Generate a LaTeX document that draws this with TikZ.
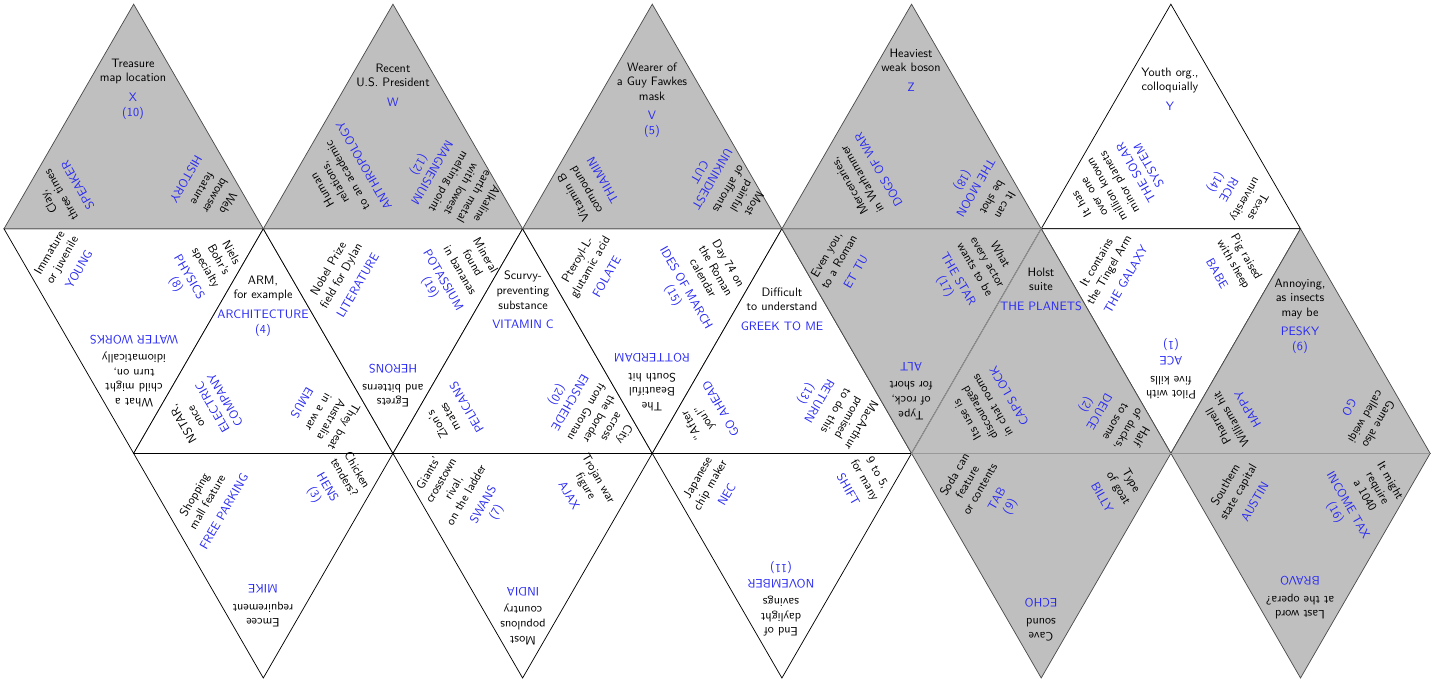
\documentclass[tikz,border=0pt]{standalone}
\usepackage{tikz}

\definecolor{ansblue}{RGB}{40,40,245}

\tikzset{
  whiteface/.style={fill=white, draw=black, line width=0.6pt},
  greyface/.style={fill=gray!50, draw=black!70, line width=0.6pt},
  seam/.style={draw=black!40, line width=0.6pt},
  cluebox/.style={align=center, text width=110pt, font=\sffamily, inner sep=0pt},
}

% clue block: name, centre, rotation, clue, answer
\newcommand{\clue}[5]{%
  \node[cluebox, rotate=#3] (#1) at (#2) {#4\\[4pt]\color{ansblue}#5};}

\begin{document}
\begin{tikzpicture}[x=0.82pt, y=-0.82pt]
  \useasboundingbox (0,0) rectangle (1439,683);

  % lattice points of the net
  \foreach \i in {0,...,11}
    \foreach \j in {0,...,3}
      \coordinate (v\i-\j) at ({4+129.65*\i},{4.2+224.6*\j});

  % white faces
  \foreach \a/\b/\c in {9-0/8-1/10-1, 0-1/2-1/1-2, 2-1/1-2/3-2, 2-1/4-1/3-2,
      4-1/3-2/5-2, 4-1/6-1/5-2, 6-1/5-2/7-2, 8-1/10-1/9-2,
      1-2/3-2/2-3, 3-2/5-2/4-3, 5-2/7-2/6-3}
    \draw[whiteface] (v\a) -- (v\b) -- (v\c) -- cycle;

  % grey faces
  \foreach \a/\b/\c in {1-0/0-1/2-1, 3-0/2-1/4-1, 5-0/4-1/6-1, 7-0/6-1/8-1,
      6-1/8-1/7-2, 8-1/7-2/9-2, 10-1/9-2/11-2, 7-2/9-2/8-3, 9-2/11-2/10-3}
    \draw[greyface] (v\a) -- (v\b) -- (v\c) -- cycle;

  % edges where two grey faces meet
  \draw[seam] (v6-1) -- (v8-1) -- (v7-2) -- (v9-2) -- (v11-2);

  % top row
  \clue{t1a}{133,89}{0}{Treasure\\map location}{X\\(10)}
  \clue{t1l}{63,194}{120}{Clay,\\three times}{SPEAKER}
  \clue{t1r}{207,191}{-120}{Web\\browser\\feature}{HISTORY}

  \clue{t2a}{393,85}{0}{Recent\\U.S. President}{W}
  \clue{t2l}{343,178}{120}{Human\\relations,\\to an academic}{ANTHROPOLOGY}
  \clue{t2r}{452,184}{-120}{Alkaline\\earth metal\\with lowest\\melting point}{MAGNESIUM\\(12)}

  \clue{t3a}{652,100}{0}{Wearer of\\a Guy Fawkes\\mask}{V\\(5)}
  \clue{t3l}{588,189}{120}{Vitamin B\\compound}{THIAMIN}
  \clue{t3r}{727,188}{-120}{Most\\painful\\of affronts}{UNKINDEST\\CUT}

  \clue{t4a}{911,70}{0}{Heaviest\\weak boson}{Z}
  \clue{t4l}{864,178}{120}{Mercenaries,\\in Warhammer}{DOGS OF WAR}
  \clue{t4r}{983,192}{-120}{It can\\be shot}{THE MOON\\(18)}

  \clue{t5a}{1170,89}{0}{Youth org.,\\colloquially}{Y}
  \clue{t5l}{1115,185}{120}{It has\\over one\\million known\\minor planets}{THE SOLAR\\SYSTEM}
  \clue{t5r}{1236,194}{-120}{Texas\\university}{RICE\\(14)}

  % middle row
  \clue{m1l}{64,261}{60}{Immature\\or juvenile}{YOUNG}
  \clue{m1r}{203,269}{-60}{Niels\\Bohr's\\specialty}{PHYSICS\\(8)}
  \clue{m1b}{134,371}{180}{What a\\child might\\turn on,\\idiomatically}{WATER WORKS}

  \clue{m2a}{263,306}{0}{ARM,\\for example}{ARCHITECTURE\\(4)}
  \clue{m2l}{204,412}{120}{NSTAR,\\once}{ELECTRIC\\COMPANY}
  \clue{m2r}{323,415}{-120}{They beat\\Australia\\in a war}{EMUS}

  \clue{m3l}{343,277}{60}{Nobel Prize\\field for Dylan}{LITERATURE}
  \clue{m3r}{457,272}{-60}{Mineral\\found\\in bananas}{POTASSIUM\\(19)}
  \clue{m3b}{393,386}{180}{Egrets\\and bitterns}{HERONS}

  \clue{m4a}{523,300}{0}{Scurvy-\\preventing\\substance}{VITAMIN C}
  \clue{m4l}{452,416}{120}{Zion's\\mates}{PELICANS}
  \clue{m4r}{590,414}{-120}{City\\across\\the border\\from Gronau}{ENSCHEDE\\(20)}

  \clue{m5l}{592,268}{60}{Pteroyl-L-\\glutamic acid}{FOLATE}
  \clue{m5r}{700,280}{-60}{Day 74 on\\the Roman\\calendar}{IDES OF MARCH\\(15)}
  \clue{m5b}{652,382}{180}{The\\Beautiful\\South hit}{ROTTERDAM}

  \clue{m6a}{782,309}{0}{Difficult\\to understand}{GREEK TO ME}
  \clue{m6l}{706,417}{120}{``After\\you!''}{GO AHEAD}
  \clue{m6r}{833,409}{-120}{MacArthur\\promised\\to do this}{RETURN\\(13)}

  \clue{m7l}{841,263}{60}{Even you,\\to a Roman}{ET TU}
  \clue{m7r}{972,271}{-60}{What\\every actor\\wants to be}{THE STAR\\(17)}
  \clue{m7b}{911,391}{180}{Type\\of rock,\\for short}{ALT}

  \clue{m8a}{1041,289}{0}{Holst\\suite}{THE PLANETS}
  \clue{m8l}{988,408}{120}{Its use is\\discouraged\\in chat rooms}{CAPS LOCK}
  \clue{m8r}{1113,420}{-120}{Half\\of ducks,\\to some}{DEUCE\\(2)}

  \clue{m9l}{1111,271}{60}{It contains\\the Tingel Arm}{THE GALAXY}
  \clue{m9r}{1232,265}{-60}{Pig raised\\with sheep}{BABE}
  \clue{m9b}{1171,369}{180}{Pilot with\\five kills}{ACE\\(1)}

  \clue{m10a}{1300,316}{0}{Annoying,\\as insects\\may be}{PESKY\\(6)}
  \clue{m10l}{1233,418}{120}{Pharrell\\Williams hit}{HAPPY}
  \clue{m10r}{1364,416}{-120}{Game also\\called weiqi}{GO}

  % bottom row
  \clue{b1l}{209,503}{60}{Shopping\\mall feature}{FREE PARKING}
  \clue{b1r}{335,483}{-60}{Chicken\\tenders?}{HENS\\(3)}
  \clue{b1b}{263,606}{180}{Emcee\\requirement}{MIKE}

  \clue{b2l}{463,493}{60}{Giants'\\crosstown\\rival,\\on the ladder}{SWANS\\(7)}
  \clue{b2r}{584,487}{-60}{Trojan war\\figure}{AJAX}
  \clue{b2b}{523,616}{180}{Most\\populous\\country}{INDIA}

  \clue{b3l}{712,486}{60}{Japanese\\chip maker}{NEC}
  \clue{b3r}{863,481}{-60}{9 to 5,\\for many}{SHIFT}
  \clue{b3b}{781,599}{180}{End of\\daylight\\savings}{NOVEMBER\\(11)}

  \clue{b4l}{983,491}{60}{Soda can\\feature\\or contents}{TAB\\(9)}
  \clue{b4r}{1117,489}{-60}{Type\\of goat}{BILLY}
  \clue{b4b}{1041,620}{180}{Cave\\sound}{ECHO}

  \clue{b5l}{1240,493}{60}{Southern\\state capital}{AUSTIN}
  \clue{b5r}{1362,497}{-60}{It might\\require\\a 1040}{INCOME TAX\\(16)}
  \clue{b5b}{1300,598}{180}{Last word\\at the opera?}{BRAVO}
\end{tikzpicture}
\end{document}
